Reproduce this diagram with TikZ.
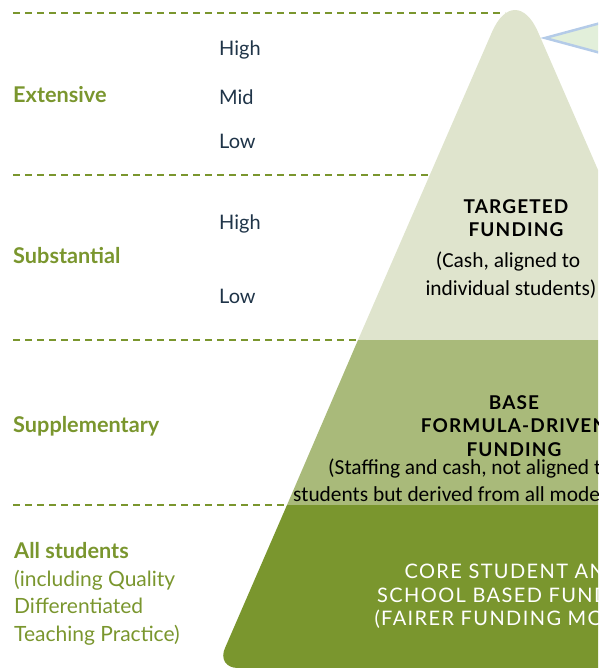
\documentclass[tikz,border=0pt]{standalone}
\usepackage{fontspec}
\setmainfont{Lato}
\newfontfamily\calibri{Carlito}
\definecolor{grnD}{RGB}{122,150,46}
\definecolor{grnM}{RGB}{169,186,122}
\definecolor{grnL}{RGB}{223,228,205}
\definecolor{navy}{RGB}{31,52,72}
\definecolor{tipfill}{RGB}{226,239,218}
\definecolor{tipline}{RGB}{180,203,232}
\tikzset{
  guide/.style={grnD, line width=1.5pt, dash pattern=on 7pt off 5pt},
  lvl/.style={anchor=base west, inner sep=0pt, text=grnD, font=\fontsize{21.7}{25}\selectfont\bfseries},
  lvlnote/.style={anchor=base west, inner sep=0pt, text=grnD, font=\fontsize{21}{25}\selectfont},
  sublvl/.style={anchor=base west, inner sep=0pt, text=navy, font=\fontsize{20}{24}\selectfont},
  head/.style={anchor=base, inner sep=0pt, font=\fontsize{19}{23}\selectfont\bfseries\addfontfeature{LetterSpace=6}},
  note/.style={anchor=base, inner sep=0pt, font=\calibri\fontsize{21.4}{25}\selectfont},
  corehead/.style={anchor=base, inner sep=0pt, text=white, font=\fontsize{20}{24}\selectfont\addfontfeature{LetterSpace=7}}
}

\begin{document}
\begin{tikzpicture}[x=1pt,y=-1pt]

\useasboundingbox (0,0) rectangle (598,668);
\clip (0,0) rectangle (598,668);

\foreach \y/\x in {13/505, 175/430, 340/360, 505/288}
  \draw[guide] (13,\y) -- (\x,\y);

\fill[grnL] (358,340) -- (492,32) .. controls (504.7,2.7) and (525.3,2.7) .. (538,32) -- (672,340) -- cycle;
\fill[grnM] (358,340) -- (287,505) -- (743,505) -- (672,340) -- cycle;
\fill[grnD] (287,505) -- (225,648) .. controls (220,659) and (226,668) .. (238,668) -- (814,668) -- (743,505) -- cycle;

\coordinate (tip) at (545,38);
\filldraw[fill=tipfill, draw=tipline, line width=2.5pt, line join=miter] (tip) -- (660,7) -- (660,69) -- cycle;

\node[lvl] (ext) at (13,103) {Extensive};
\node[lvl] (sbs) at (13,263) {Substantial};
\node[lvl] (sup) at (13,432) {Supplementary};
\node[lvl] (all) at (14,558) {All students};
\node[lvlnote] (all1) at (14,586) {(including Quality};
\node[lvlnote] (all2) at (14,613) {Differentiated};
\node[lvlnote] (all3) at (14,641) {Teaching Practice)};

\foreach \t/\y in {High/56, Mid/105, Low/149, High/229, Low/303}
  \node[sublvl] (sub\y) at (219,\y) {\t};

\node[head] (tgt1) at (516,213) {TARGETED};
\node[head] (tgt2) at (516,236) {FUNDING};
\node[note] (tgt3) at (508,267) {(Cash, aligned to};
\node[note] (tgt4) at (511,295) {individual students)};

\node[head] (base1) at (514,409) {BASE};
\node[head] (base2) at (514,432) {FORMULA-DRIVEN};
\node[head] (base3) at (514,456) {FUNDING};
\node[note, anchor=base west] (base4) at (328,474) {(Staffing and cash, not aligned to};
\node[note, anchor=base west] (base5) at (293,501) {students but derived from all modelled};

\node[corehead] (core1) at (513,578) {CORE STUDENT AND};
\node[corehead] (core2) at (513,602) {SCHOOL BASED FUNDING};
\node[corehead] (core3) at (513,625) {(FAIRER FUNDING MODEL)};

\end{tikzpicture}
\end{document}
